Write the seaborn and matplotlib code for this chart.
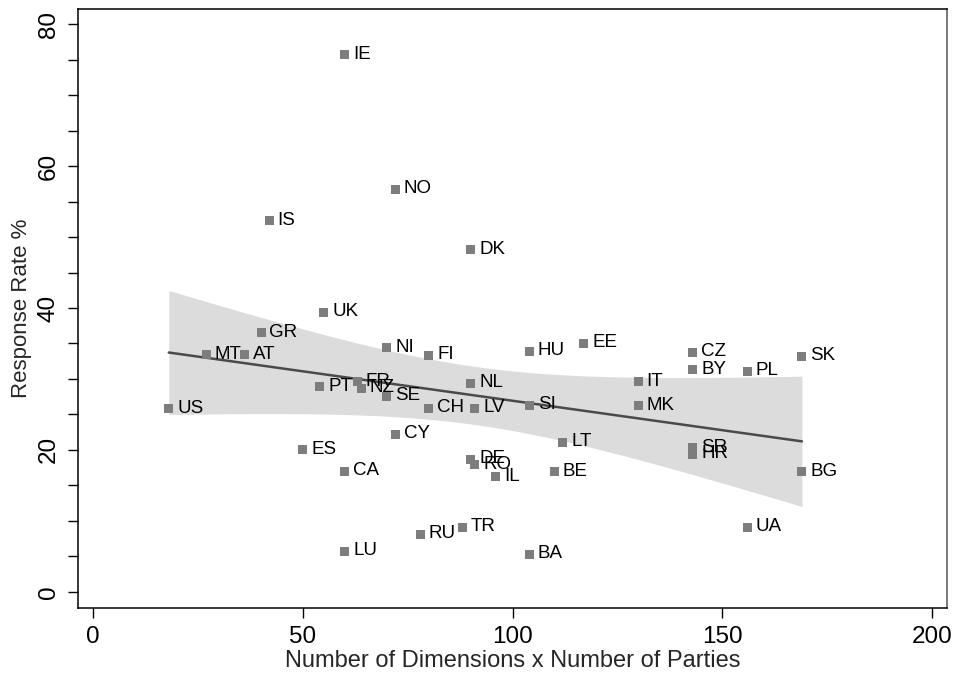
import numpy as np
import pandas as pd
import matplotlib
matplotlib.use("Agg")
import matplotlib.pyplot as plt
import seaborn as sns

countries = ["IE", "NO", "IS", "DK", "UK", "GR", "MT", "AT", "NI", "FI",
             "HU", "EE", "CZ", "BY", "PL", "SK", "IT", "NL", "PT", "FR",
             "NZ", "SE", "US", "CH", "LV", "SI", "MK", "CY", "LT", "ES",
             "SR", "HR", "BG", "CA", "DE", "RO", "IL", "BE", "TR", "RU",
             "UA", "LU", "BA"]
dims_x_parties = [60, 72, 42, 90, 55, 40, 27, 36, 70, 80,
                  104, 117, 143, 143, 156, 169, 130, 90, 54, 63,
                  64, 70, 18, 80, 91, 104, 130, 72, 112, 50,
                  143, 143, 169, 60, 90, 91, 96, 110, 88, 78,
                  156, 60, 104]
response_rate = [75.7, 56.7, 52.3, 48.2, 39.4, 36.5, 33.4, 33.4, 34.4, 33.3,
                 33.9, 35.0, 33.7, 31.3, 31.1, 33.2, 29.6, 29.4, 28.9, 29.6,
                 28.7, 27.5, 25.8, 25.9, 25.9, 26.3, 26.2, 22.2, 21.1, 20.0,
                 20.3, 19.4, 16.9, 17.0, 18.7, 17.9, 16.2, 16.9, 9.1, 8.1,
                 9.1, 5.7, 5.3]

x_ticks = [0, 50, 100, 150, 200]
y_ticks = [0, 5, 10, 15, 20, 25, 30, 35, 40, 45, 50, 55, 60, 65, 70, 75, 80]
y_tick_labels = [str(v) if v % 20 == 0 else "" for v in y_ticks]

df = pd.DataFrame({"country": countries,
                   "dp": dims_x_parties,
                   "rr": response_rate})

sns.set_theme(style="white")
plt.rcParams["font.family"] = ["Liberation Sans", "DejaVu Sans"]

fig = plt.figure(figsize=(9.57, 6.77), dpi=100)
ax = fig.add_axes([78.3 / 957, 1 - 607.7 / 677, (947 - 78.3) / 957, (607.7 - 9) / 677])

# 95% confidence band of the linear fit (mean prediction, t with n-2 df)
x = df["dp"].to_numpy(float)
y = df["rr"].to_numpy(float)
n = len(x)
slope, intercept = np.polyfit(x, y, 1)
resid = y - (intercept + slope * x)
s = np.sqrt(np.sum(resid ** 2) / (n - 2))
grid = np.linspace(x.min(), x.max(), 200)
se = s * np.sqrt(1 / n + (grid - x.mean()) ** 2 / np.sum((x - x.mean()) ** 2))
t_crit = 2.0195
fit = intercept + slope * grid
ax.fill_between(grid, fit - t_crit * se, fit + t_crit * se,
                color="#dcdcdc", linewidth=0, zorder=1)

# fitted line
sns.regplot(data=df, x="dp", y="rr", ax=ax, scatter=False, ci=None,
            color="#4a4a4a", line_kws={"linewidth": 1.8, "zorder": 2})

# country markers
sns.scatterplot(data=df, x="dp", y="rr", ax=ax, marker="s", s=42,
                color="#7d7d7d", edgecolor="none", linewidth=0, zorder=3)

for name, xv, yv in zip(df["country"], df["dp"], df["rr"]):
    ax.annotate(name, (xv, yv), xytext=(6.0, 0.5), textcoords="offset points",
                ha="left", va="center", fontsize=13.5, color="black", zorder=4)

ax.set_xlim(-3.58, 203.6)
ax.set_ylim(-2.256, 82.16)
ax.set_xticks(x_ticks)
ax.set_xticklabels([str(v) for v in x_ticks])
ax.set_yticks(y_ticks)
ax.set_yticklabels(y_tick_labels, rotation=90, va="center")

ax.tick_params(axis="both", which="major", direction="out", length=7.5,
               width=1, color="black", labelsize=17.5, pad=6, labelcolor="black")
ax.tick_params(axis="x", bottom=True)
ax.tick_params(axis="y", left=True)

ax.set_xlabel("Number of Dimensions x Number of Parties", fontsize=17, labelpad=1)
ax.set_ylabel("Response Rate %", fontsize=16, labelpad=4)

for side in ["left", "top", "bottom"]:
    ax.spines[side].set_visible(True)
    ax.spines[side].set_color("black")
    ax.spines[side].set_linewidth(1.1)
ax.spines["right"].set_visible(True)
ax.spines["right"].set_color("#555555")
ax.spines["right"].set_linewidth(1.1)

ax.grid(False)
fig.savefig("out.png", dpi=100, facecolor="white")
